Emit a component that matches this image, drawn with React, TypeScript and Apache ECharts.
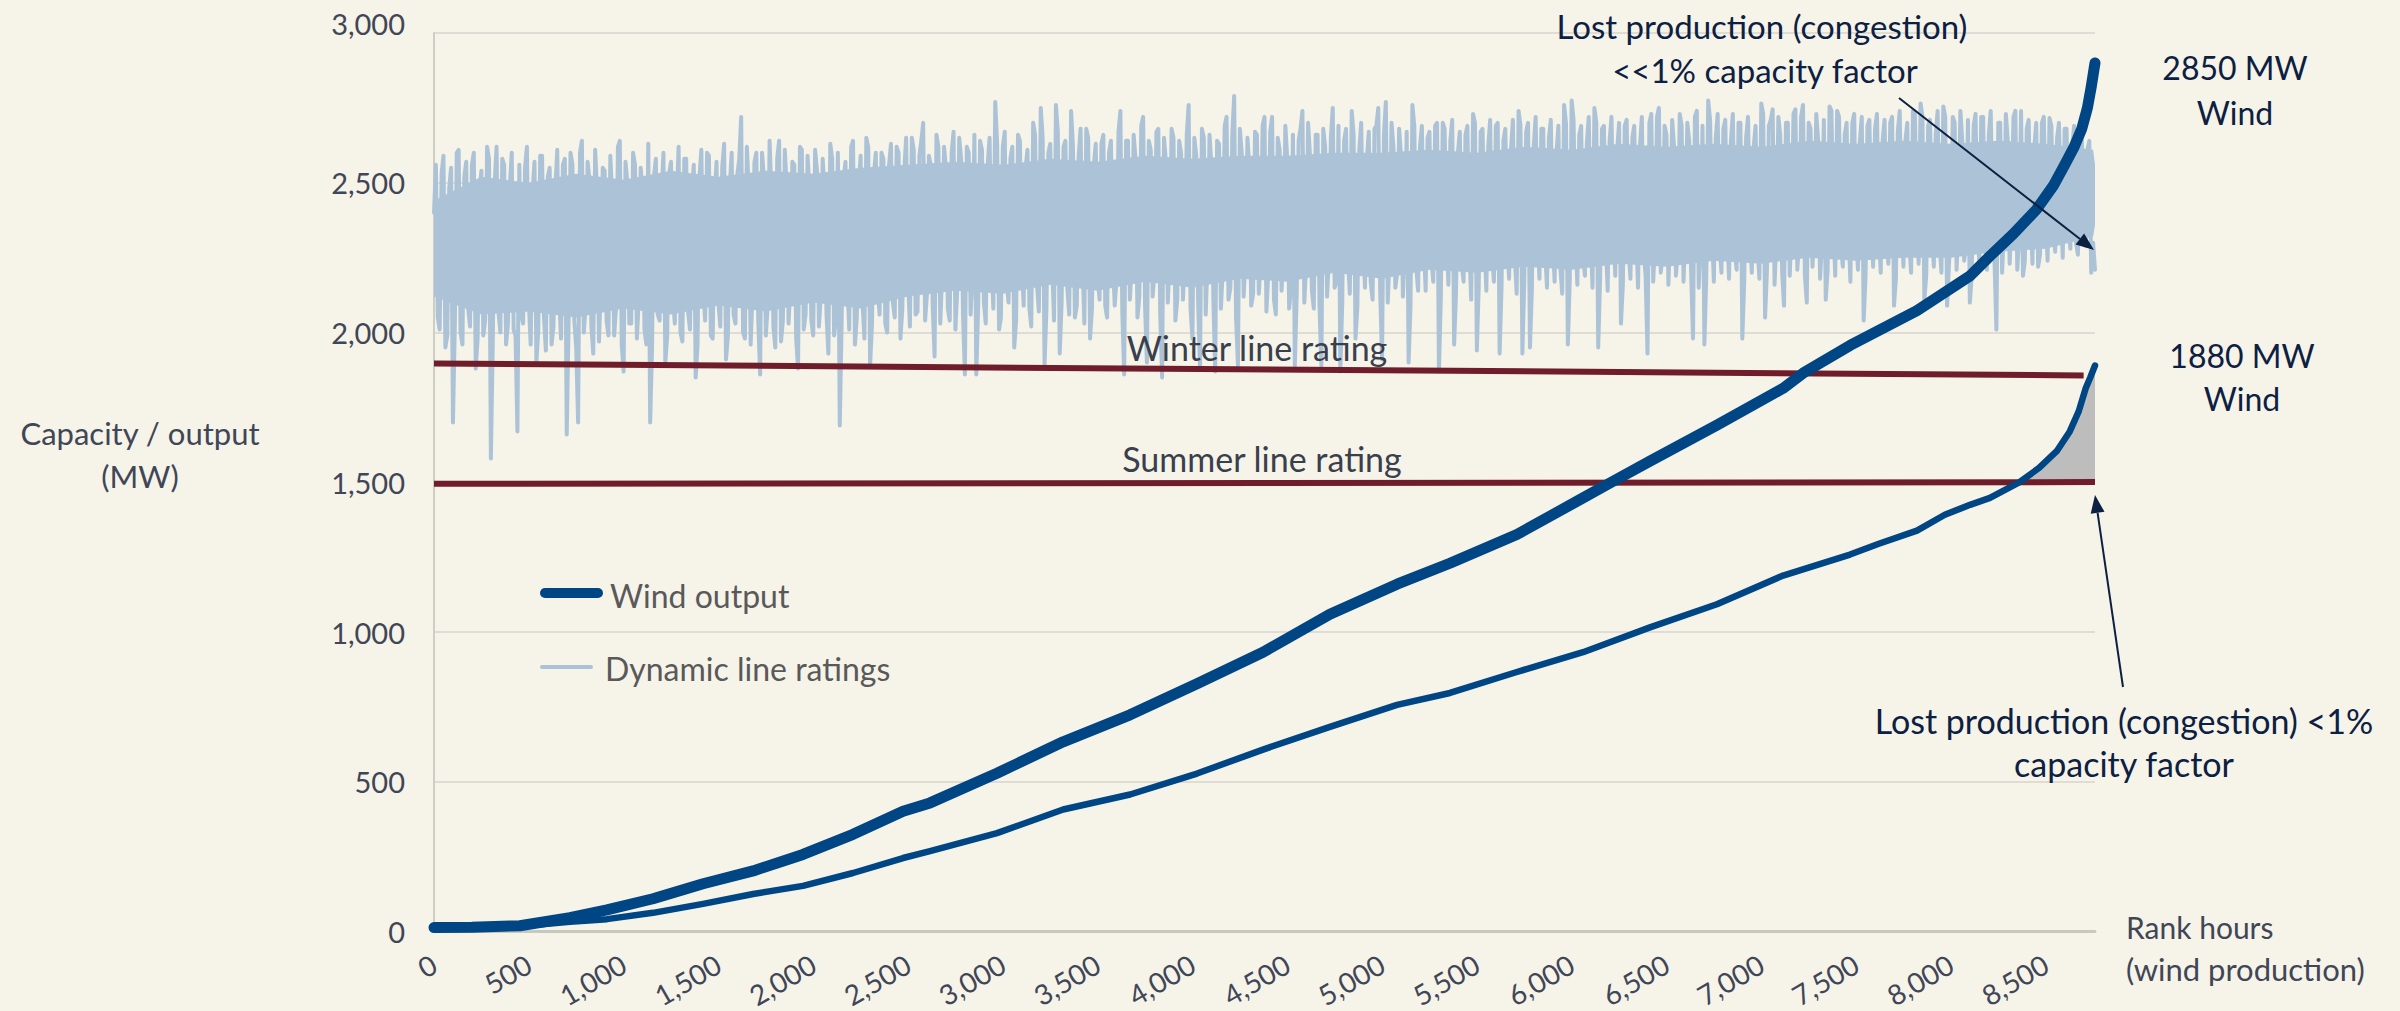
import React, { useEffect, useRef } from "react";
import * as echarts from "echarts";

// ---------- DATA ----------
// Wind output duration curves (rank hour, MW)
const wind2850Hours = [0, 200, 453, 717, 912, 1155, 1419, 1683, 1946, 2210, 2474, 2616, 2969, 3318, 3671, 4024, 4372, 4725, 5079, 5358, 5711, 6060, 6202, 6413, 6766, 7115, 7221, 7468, 7821, 8101, 8207, 8330, 8450, 8540, 8600, 8650, 8690, 8720, 8740, 8760];
const wind2850MW = [14, 15, 20, 47, 73, 110, 160, 203, 258, 325, 402, 430, 529, 634, 724, 828, 933, 1060, 1160, 1230, 1326, 1448, 1498, 1571, 1691, 1814, 1865, 1957, 2073, 2189, 2256, 2330, 2410, 2490, 2560, 2620, 2680, 2750, 2820, 2900];

const wind1880Hours = [0, 200, 453, 717, 912, 1155, 1419, 1683, 1946, 2210, 2474, 2616, 2969, 3318, 3671, 4024, 4372, 4725, 5079, 5358, 5711, 6060, 6413, 6766, 7115, 7468, 7620, 7821, 7968, 8101, 8206, 8360, 8465, 8558, 8627, 8674, 8711, 8735, 8760];
const wind1880MW = [12, 13, 18, 33, 42, 63, 93, 126, 153, 196, 246, 269, 329, 408, 458, 528, 608, 684, 757, 797, 867, 933, 1016, 1093, 1189, 1259, 1295, 1339, 1392, 1425, 1448, 1500, 1548, 1604, 1670, 1737, 1814, 1850, 1890];

// Static line ratings
const winterHours = [0, 8700];
const winterMW = [1897, 1857];
const summerHours = [0, 8760];
const summerMW = [1495, 1501];

// Lost production (congestion) shading starts where the 1880 MW curve crosses the summer rating
const LOST_FROM_HOURS = 8360;
const LOST_BASE_MW = 1500;

// Dynamic line ratings, readings every 20 rank hours (0 ... 8760)
const DLR_STEP_HOURS = 20;
const dlrMW = [
  2400, 2050, 2530, 1950, 2480, 1700, 2600, 2000, 2520, 2080, 2560, 1880, 2470, 1990, 2620, 1580, 2500, 2070, 2580, 1960,
  2490, 2010, 1670, 2060, 2550, 2100, 2470, 1900, 2590, 2050, 2520, 1960, 2480, 2120, 2560, 1660, 2600, 2040, 1700, 2640,
  2090, 2510, 1930, 2470, 2150, 2540, 1990, 2450, 2080, 2640, 1870, 2500, 2030, 2560, 2110, 2480, 1960, 1700, 2520, 2060,
  2460, 1900, 2530, 2120, 2440, 2000, 2580, 2070, 2470, 1850, 2520, 2140, 2600, 1990, 2450, 2100, 2550, 1910, 2490, 2060,
  2530, 2720, 1980, 2480, 2130, 2600, 1860, 2520, 2090, 2450, 1950, 2640, 2040, 2490, 2170, 2560, 1880, 2610, 2060, 2480,
  1990, 2540, 2120, 2470, 1930, 2580, 2050, 1690, 2510, 2160, 2620, 1960, 2490, 2100, 2650, 1890, 2530, 2150, 2600, 2030,
  2560, 2100, 2620, 1980, 2540, 2180, 2650, 2060, 2590, 2700, 2130, 2560, 1920, 2620, 2200, 2550, 2040, 2670, 2150, 2580,
  1860, 2600, 2200, 1860, 2640, 2100, 2560, 2250, 2770, 2010, 2620, 2170, 2580, 1950, 2660, 2220, 2550, 2080, 2700, 2160,
  2750, 1890, 2600, 2230, 2760, 1930, 2620, 2150, 2740, 2050, 2590, 2240, 2680, 1980, 2560, 2190, 2630, 2090, 2600, 2250,
  2180, 2740, 1860, 2640, 2230, 2580, 2120, 2720, 1900, 2610, 2200, 2680, 1850, 2570, 2240, 2650, 2110, 2600, 2270, 2760,
  1980, 2590, 1880, 2650, 2250, 2560, 1870, 2630, 2210, 2720, 2150, 2790, 1890, 2600, 2260, 2550, 2130, 2660, 2240, 2720,
  2200, 2720, 2060, 2610, 2270, 2580, 2150, 1890, 2640, 2740, 2230, 2590, 2080, 2660, 1890, 2620, 2250, 2750, 2170, 1870,
  2640, 2250, 2740, 1980, 2610, 2300, 2580, 2170, 2680, 2750, 1910, 2770, 2260, 2620, 2200, 2590, 2290, 1900, 2760, 2220,
  2620, 2300, 2650, 2250, 2690, 1870, 2700, 2330, 2640, 1960, 2600, 2230, 2660, 2290, 2730, 1940, 2670, 2310, 2620, 2260,
  2690, 1930, 2640, 2300, 2610, 2250, 2740, 1930, 2670, 1950, 2620, 2330, 2680, 2270, 2650, 2310, 2600, 2220, 2760, 1960,
  2775, 2310, 2660, 2250, 2630, 2330, 2750, 1950, 2680, 2290, 2640, 2350, 2610, 2030, 2690, 2280, 2650, 2340, 2620, 2260,
  1930, 2730, 2310, 2750, 2270, 2660, 2340, 2620, 2280, 2690, 2350, 2640, 1980, 2740, 2300, 1960, 2775, 2330, 2650, 2290,
  2680, 2330, 2640, 2270, 2700, 1980, 2650, 2350, 2620, 2290, 2765, 2050, 2690, 2745, 2320, 2660, 2090, 2700, 2360, 2745,
  2310, 2760, 2100, 2680, 2350, 2640, 2300, 2110, 2755, 2370, 2740, 2290, 2660, 2340, 2700, 2320, 2640, 2040, 2690, 2360,
  2680, 2330, 2640, 2360, 2700, 2090, 2670, 2350, 2640, 2300, 2740, 2380, 2765, 2110, 2690, 2340, 2660, 2300, 2755, 2090,
  2330, 2700, 2380, 2640, 2300, 2100, 2690, 2360, 2720, 2330, 2660, 2380, 2010, 2700, 2350, 2640, 2400, 2740, 2320, 2190,
  2680, 2400, 2620, 2220, 2700, 2380, 2716, 2350, 2650, 2410, 2680, 2360, 2620, 2300, 2600, 2380, 2611, 2200, 2210,
];
// Dynamic line ratings between those readings (rank hours 10, 30, 50 ... 8750): the dense fringe of the band
const dlrMWBetween = [
  2560, 2010, 2590, 1990, 2550, 2030, 2610, 1960, 2570, 2020, 2600, 1980, 2540, 2040, 2580, 1970, 2620, 2000, 2560, 2030,
  2600, 1990, 2560, 2030, 2620, 1960, 2570, 2010, 2590, 1940, 2550, 2020, 2610, 1980, 2580, 2040, 2560, 1950, 2600, 2000,
  2570, 2020, 2610, 1970, 2550, 2040, 2590, 1990, 2620, 1960, 2570, 2030, 2600, 1980, 2550, 2010, 2630, 1950, 2580, 2040,
  2600, 1990, 2570, 2030, 2620, 1970, 2580, 2010, 2560, 1960, 2610, 2040, 2590, 1980, 2570, 2020, 2630, 1990, 2600, 2030,
  2580, 2000, 2620, 1960, 2570, 2040, 2600, 1990, 2640, 2020, 2580, 1970, 2610, 2030, 2570, 1980, 2620, 2010, 2590, 2040,
  2610, 2020, 2580, 2060, 2630, 1990, 2600, 2040, 2570, 2010, 2640, 2050, 2590, 1980, 2620, 2030, 2600, 2060, 2580, 2000,
  2630, 2050, 2600, 2080, 2650, 2020, 2610, 2070, 2640, 2040, 2590, 2090, 2660, 2030, 2620, 2080, 2600, 2010, 2650, 2060,
  2620, 2060, 2660, 2090, 2610, 2030, 2650, 2080, 2630, 2050, 2670, 2100, 2620, 2040, 2640, 2090, 2610, 2020, 2660, 2070,
  2650, 2080, 2630, 2040, 2670, 2100, 2640, 2060, 2620, 2090, 2680, 2030, 2650, 2080, 2630, 2110, 2660, 2050, 2640, 2090,
  2670, 2070, 2640, 2110, 2660, 2050, 2690, 2090, 2640, 2120, 2670, 2060, 2650, 2100, 2680, 2040, 2640, 2110, 2660, 2080,
  2650, 2100, 2680, 2060, 2660, 2120, 2640, 2080, 2690, 2110, 2660, 2050, 2680, 2120, 2650, 2090, 2670, 2130, 2690, 2070,
  2670, 2110, 2650, 2140, 2690, 2080, 2660, 2130, 2680, 2100, 2700, 2140, 2660, 2090, 2680, 2120, 2650, 2150, 2690, 2100,
  2680, 2130, 2660, 2090, 2700, 2150, 2670, 2110, 2690, 2140, 2660, 2100, 2700, 2150, 2680, 2120, 2670, 2090, 2690, 2140,
  2690, 2140, 2670, 2170, 2700, 2120, 2680, 2160, 2710, 2130, 2670, 2170, 2690, 2110, 2700, 2160, 2680, 2140, 2710, 2170,
  2700, 2150, 2680, 2180, 2710, 2130, 2690, 2170, 2700, 2140, 2720, 2180, 2680, 2150, 2710, 2170, 2690, 2130, 2700, 2180,
  2710, 2160, 2690, 2190, 2720, 2150, 2700, 2180, 2690, 2140, 2720, 2190, 2700, 2160, 2710, 2180, 2690, 2150, 2720, 2190,
  2700, 2170, 2720, 2200, 2690, 2160, 2710, 2190, 2730, 2170, 2700, 2200, 2720, 2150, 2690, 2190, 2710, 2170, 2730, 2200,
  2710, 2180, 2730, 2210, 2700, 2170, 2720, 2200, 2690, 2180, 2730, 2210, 2710, 2160, 2720, 2200, 2700, 2190, 2730, 2210,
  2720, 2190, 2700, 2220, 2730, 2180, 2710, 2210, 2740, 2190, 2720, 2220, 2700, 2170, 2730, 2210, 2720, 2190, 2710, 2220,
  2730, 2200, 2710, 2230, 2720, 2180, 2740, 2220, 2700, 2200, 2730, 2230, 2720, 2190, 2710, 2220, 2740, 2200, 2720, 2230,
  2720, 2210, 2740, 2240, 2710, 2190, 2730, 2230, 2720, 2210, 2740, 2240, 2700, 2200, 2730, 2230, 2720, 2210, 2740, 2240,
  2710, 2230, 2700, 2260, 2720, 2240, 2690, 2270, 2700, 2250, 2680, 2280, 2690, 2260, 2660, 2290, 2640, 2300,
];
// Solid core of the dynamic rating band (where the hourly readings overlap completely)
const dlrCoreHours = [0, 250, 500, 750, 1000, 1250, 1500, 1750, 2000, 2250, 2500, 2750, 3000, 3250, 3500, 3750, 4000, 4250, 4500, 4750, 5000, 5250, 5500, 5750, 6000, 6250, 6500, 6750, 7000, 7250, 7500, 7750, 8000, 8250, 8500, 8750, 8760];
const dlrCoreLow = [2120, 2060, 2070, 2050, 2080, 2060, 2090, 2070, 2100, 2080, 2120, 2140, 2130, 2160, 2140, 2170, 2150, 2180, 2170, 2200, 2180, 2210, 2200, 2220, 2210, 2230, 2220, 2240, 2230, 2250, 2240, 2250, 2250, 2270, 2280, 2320, 2360];
const dlrCoreHigh = [2440, 2520, 2500, 2530, 2510, 2540, 2520, 2540, 2530, 2550, 2560, 2570, 2560, 2580, 2570, 2590, 2580, 2590, 2590, 2600, 2600, 2610, 2600, 2620, 2610, 2630, 2620, 2630, 2620, 2640, 2630, 2640, 2630, 2640, 2630, 2610, 2560];

// Y-axis scale (MW)
const Y_MAX = 3000;
const Y_STEP = 500;

// ---------- STYLE ----------
const FONT = "Lato, 'Open Sans', 'DejaVu Sans', sans-serif";
const BG = "#F6F3E9";
const BLUE = "#004584";
const LIGHT = "#ACC3D7";
const MAROON = "#6F1D2A";
const GREY_AREA = "#BDBDBD";
const AXIS_TEXT = "#404656";
const NAVY_TEXT = "#0C2041";
const LEGEND_TEXT = "#595959";

const pairs = (xs: number[], ys: number[]) => xs.map((x, i) => [x, ys[i]]);

// A filled band between two value lines, drawn through the cartesian scales
function bandSeries(name: string, xs: number[], lows: number[], highs: number[], color: string) {
  return {
    type: "custom",
    name,
    silent: true,
    data: xs.map((x, i) => [x, lows[i], highs[i]]),
    encode: { x: 0, y: [1, 2] },
    renderItem: (params: any, api: any) => {
      if (params.dataIndex !== 0) return null;
      const top = xs.map((x, i) => api.coord([x, highs[i]]));
      const bottom = xs.map((x, i) => api.coord([x, lows[i]])).reverse();
      return {
        type: "polygon",
        shape: { points: top.concat(bottom) },
        style: { fill: color },
      };
    },
  };
}

function buildOption() {
  const dlrData: number[][] = [];
  dlrMW.forEach((v, i) => {
    dlrData.push([i * DLR_STEP_HOURS, v]);
    if (i < dlrMWBetween.length) dlrData.push([i * DLR_STEP_HOURS + DLR_STEP_HOURS / 2, dlrMWBetween[i]]);
  });
  const lostIdx = wind1880Hours.map((h, i) => i).filter((i) => wind1880Hours[i] >= LOST_FROM_HOURS);
  const lostHours = lostIdx.map((i) => wind1880Hours[i]);
  const lostTop = lostIdx.map((i) => wind1880MW[i]);
  const lostBottom = lostIdx.map(() => LOST_BASE_MW);

  const txt = (text: string, x: number, y: number, size: number, fill: string, align = "center") => ({
    type: "text",
    x,
    y,
    silent: true,
    z: 100,
    style: {
      text,
      fill,
      fontSize: size,
      fontFamily: FONT,
      align,
      verticalAlign: "middle",
      textAlign: align,
      textVerticalAlign: "middle",
    },
  });

  const graphic: any[] = [
    txt(Y_MAX.toLocaleString("en-US"), 405, 23, 29, AXIS_TEXT, "right"),
    txt("Capacity / output", 140, 433, 31, AXIS_TEXT),
    txt("(MW)", 140, 476, 31, AXIS_TEXT),
    txt("Rank hours", 2126, 927, 30, AXIS_TEXT, "left"),
    txt("(wind production)", 2126, 969, 31, AXIS_TEXT, "left"),
    txt("Winter line rating", 1257, 347, 34, "#3A3F4C"),
    txt("Summer line rating", 1262, 458, 34, "#3A3F4C"),
    // legend
    { type: "line", silent: true, z: 100, shape: { x1: 545, y1: 593, x2: 598, y2: 593 }, style: { stroke: BLUE, lineWidth: 10, lineCap: "round" } },
    txt("Wind output", 610, 595, 32, LEGEND_TEXT, "left"),
    { type: "line", silent: true, z: 100, shape: { x1: 542, y1: 667, x2: 591, y2: 667 }, style: { stroke: LIGHT, lineWidth: 4, lineCap: "round" } },
    txt("Dynamic line ratings", 605, 668, 32, LEGEND_TEXT, "left"),
    // annotations
    txt("Lost production (congestion)", 1762, 26, 33, NAVY_TEXT),
    txt("<<1% capacity factor", 1765, 70, 33, NAVY_TEXT),
    txt("2850 MW", 2235, 67, 32, NAVY_TEXT),
    txt("Wind", 2235, 112, 32, NAVY_TEXT),
    txt("1880 MW", 2242, 355, 32, NAVY_TEXT),
    txt("Wind", 2242, 398, 32, NAVY_TEXT),
    txt("Lost production (congestion) <1%", 2124, 720, 34, NAVY_TEXT),
    txt("capacity factor", 2124, 763, 34, NAVY_TEXT),
    // arrows
    { type: "line", silent: true, z: 100, shape: { x1: 1899, y1: 98, x2: 2080, y2: 239 }, style: { stroke: NAVY_TEXT, lineWidth: 2 } },
    { type: "polygon", silent: true, z: 100, shape: { points: [[2094, 250], [2075.5, 244.5], [2084.1, 233.4]] }, style: { fill: NAVY_TEXT } },
    { type: "line", silent: true, z: 100, shape: { x1: 2123, y1: 687, x2: 2097.6, y2: 512.8 }, style: { stroke: NAVY_TEXT, lineWidth: 2 } },
    { type: "polygon", silent: true, z: 100, shape: { points: [[2095, 495], [2104.5, 511.8], [2090.7, 513.8]] }, style: { fill: NAVY_TEXT } },
  ];

  return {
    animation: false,
    backgroundColor: BG,
    textStyle: { fontFamily: FONT },
    grid: { left: 434, right: 305, top: 33, bottom: 76, containLabel: false },
    xAxis: {
      type: "value",
      min: 0,
      max: 8760,
      interval: 500,
      axisLine: { show: true, onZero: false, lineStyle: { color: "#C9C8C0", width: 3 } },
      axisTick: { show: false },
      splitLine: { show: false },
      axisLabel: {
        rotate: 30,
        margin: 30,
        fontSize: 28,
        fontFamily: FONT,
        color: AXIS_TEXT,
        showMaxLabel: false,
        formatter: (v: number) => (v % 500 === 0 ? v.toLocaleString("en-US") : ""),
      },
    },
    yAxis: {
      type: "value",
      min: 0,
      max: Y_MAX,
      interval: Y_STEP,
      axisLine: { show: true, lineStyle: { color: "#CFCEC6", width: 2 } },
      axisTick: { show: false },
      splitLine: { show: true, lineStyle: { color: "#DEDCD4", width: 2 } },
      axisLabel: {
        margin: 29,
        fontSize: 29,
        fontFamily: FONT,
        color: AXIS_TEXT,
        showMaxLabel: false,
        formatter: (v: number) => v.toLocaleString("en-US"),
      },
    },
    series: [
      bandSeries("Dynamic line ratings core", dlrCoreHours, dlrCoreLow, dlrCoreHigh, LIGHT),
      {
        type: "line",
        name: "Dynamic line ratings",
        data: dlrData,
        symbol: "none",
        silent: true,
        lineStyle: { color: LIGHT, width: 4, cap: "round", join: "round" },
      },
      {
        type: "line",
        name: "Winter line rating",
        data: pairs(winterHours, winterMW),
        symbol: "none",
        silent: true,
        lineStyle: { color: MAROON, width: 6 },
      },
      {
        type: "line",
        name: "Summer line rating",
        data: pairs(summerHours, summerMW),
        symbol: "none",
        silent: true,
        lineStyle: { color: MAROON, width: 6 },
      },
      bandSeries("Lost production", lostHours, lostBottom, lostTop, GREY_AREA),
      {
        type: "line",
        name: "Wind output 1880 MW",
        data: pairs(wind1880Hours, wind1880MW),
        symbol: "none",
        silent: true,
        lineStyle: { color: BLUE, width: 6.5, cap: "round", join: "round" },
      },
      {
        type: "line",
        name: "Wind output 2850 MW",
        data: pairs(wind2850Hours, wind2850MW),
        symbol: "none",
        silent: true,
        lineStyle: { color: BLUE, width: 11, cap: "round", join: "round" },
      },
    ],
    graphic,
  };
}

export default function App() {
  const ref = useRef<HTMLDivElement>(null);
  useEffect(() => {
    if (!ref.current) return;
    const chart = echarts.init(ref.current, null, { renderer: "svg" });
    chart.setOption(buildOption() as any);
    return () => chart.dispose();
  }, []);
  return (
    <div
      ref={ref}
      style={{ position: "fixed", left: 0, top: 0, width: 2400, height: 1011, background: BG }}
    />
  );
}
